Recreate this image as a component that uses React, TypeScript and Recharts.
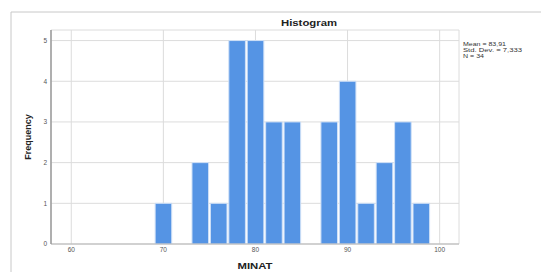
import React from 'react';
import { BarChart, Bar, XAxis, YAxis, CartesianGrid } from 'recharts';

// bin midpoints (bin width 2) and frequencies
const binMids = [70, 74, 76, 78, 80, 82, 84, 88, 90, 92, 94, 96, 98];
const counts = [1, 2, 1, 5, 5, 3, 3, 3, 4, 1, 2, 3, 1];
const xTicks = [60, 70, 80, 90, 100];
const yTicks = [0, 1, 2, 3, 4, 5];
const statLines = ['Mean = 83,91', 'Std. Dev. = 7,333', 'N = 34'];
const statWidths = [43, 59, 21];

const data = binMids.map((mid, i) => ({ mid, count: counts[i] }));

const W = 541;
const H = 272;
const PLOT_LEFT = 51;
const PLOT_RIGHT = 459;
const X_DOMAIN: [number, number] = [57.8, 102.1];
const BIN_WIDTH = 2;
const barSize = (BIN_WIDTH * (PLOT_RIGHT - PLOT_LEFT)) / (X_DOMAIN[1] - X_DOMAIN[0]);

const font = '"Liberation Sans", Arial, sans-serif';

export default function App() {
  return (
    <div style={{ position: 'absolute', left: 0, top: 0, width: W, height: H, background: '#fff', fontFamily: font }}>
      <BarChart
        width={W}
        height={H}
        data={data}
        barCategoryGap={0}
        margin={{ top: 30, right: W - PLOT_RIGHT, bottom: 0, left: 0 }}
      >
        <CartesianGrid stroke="#dcdcdc" ticks={undefined} />
        <XAxis
          dataKey="mid"
          type="number"
          domain={X_DOMAIN}
          allowDataOverflow
          ticks={xTicks}
          height={28}
          tickLine={false}
          tickSize={3}
          tickMargin={0}
          axisLine={{ stroke: '#b5b5b5' }}
          tick={{ fontSize: 6.5, fill: '#555', fontFamily: font }}
        />
        <YAxis
          type="number"
          domain={[0, 5.26]}
          allowDataOverflow
          ticks={yTicks}
          width={PLOT_LEFT}
          tickLine={false}
          tickSize={4}
          tickMargin={0}
          axisLine={{ stroke: '#9a9a9a', strokeWidth: 1.5 }}
          tick={{ fontSize: 6.5, fill: '#555', fontFamily: font }}
        />
        <Bar
          dataKey="count"
          fill="#5594e4"
          stroke="#cfe0f7"
          strokeWidth={1}
          barSize={barSize}
          isAnimationActive={false}
        />
      </BarChart>
      <svg
        width={W}
        height={H}
        style={{ position: 'absolute', left: 0, top: 0, pointerEvents: 'none' }}
      >
        <line x1={11} y1={12} x2={W} y2={12} stroke="#c8c8c8" />
        <line x1={11} y1={12} x2={11} y2={H} stroke="#c8c8c8" />
        <text
          x={309}
          y={26}
          textAnchor="middle"
          fontSize={9}
          fontWeight="bold"
          fontFamily={font}
          fill="#222"
          textLength={56}
          lengthAdjust="spacingAndGlyphs"
        >
          Histogram
        </text>
        <text
          x={255}
          y={269}
          textAnchor="middle"
          fontSize={9}
          fontWeight="bold"
          fontFamily={font}
          fill="#222"
          textLength={35}
          lengthAdjust="spacingAndGlyphs"
        >
          MINAT
        </text>
        <text
          x={31}
          y={137}
          textAnchor="middle"
          fontSize={9}
          fontWeight="bold"
          fontFamily={font}
          fill="#222"
          transform="rotate(-90 31 137)"
        >
          Frequency
        </text>
        {statLines.map((s, i) => (
          <text
            key={s}
            x={463}
            y={45.5 + i * 6}
            fontSize={5.5}
            fontFamily={font}
            fill="#333"
            textLength={statWidths[i]}
            lengthAdjust="spacingAndGlyphs"
          >
            {s}
          </text>
        ))}
      </svg>
    </div>
  );
}
